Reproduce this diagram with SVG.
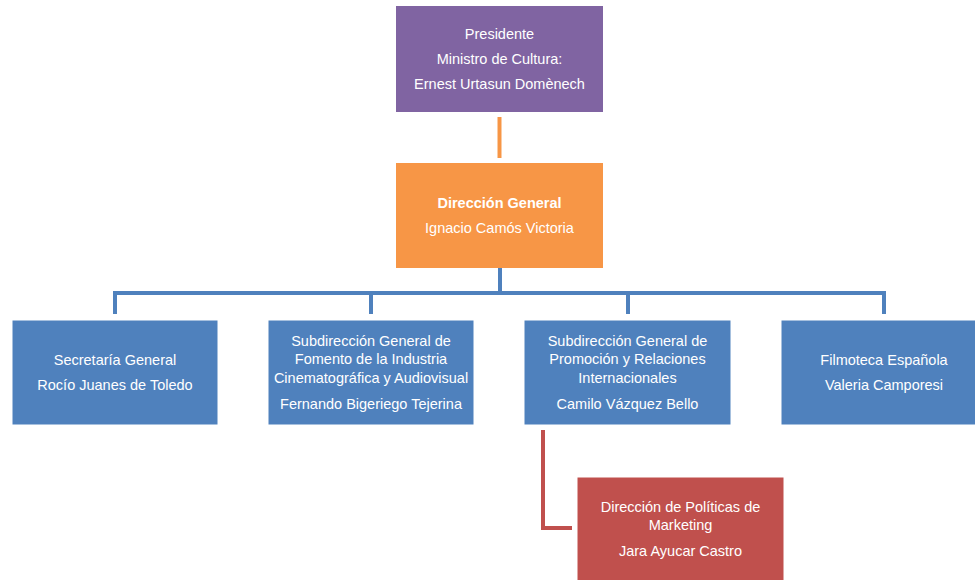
<svg xmlns="http://www.w3.org/2000/svg" width="975" height="580" viewBox="0 0 975 580">
<style>
text{font-family:"Liberation Sans",Arial,sans-serif;font-size:14.5px;fill:#ffffff;text-anchor:middle}
.b{font-weight:bold}
.blue{fill:#4f81bd;stroke:#ffffff;stroke-width:1}
.conn{fill:none;stroke-width:4}
</style>
<rect width="975" height="580" fill="#ffffff"/>
<g id="connectors">
<line class="conn" x1="499.5" y1="117" x2="499.5" y2="158" stroke="#f79646"/>
<path class="conn" d="M500 268 V293 M115 314 V293 H884 V314 M371 293 V314 M628 293 V314" stroke="#4f81bd"/>
<path class="conn" d="M543 430 V528 H572" stroke="#c0504d"/>
</g>
<g id="presidente">
<rect x="396" y="6" width="207" height="106" fill="#8064a2"/>
<text x="499.5" y="39">Presidente</text>
<text x="499.5" y="64">Ministro de Cultura:</text>
<text x="499.5" y="89">Ernest Urtasun Domènech</text>
</g>
<g id="direccion-general">
<rect x="396" y="163" width="207" height="105" fill="#f79646"/>
<text class="b" x="499.5" y="208">Dirección General</text>
<text x="499.5" y="233">Ignacio Camós Victoria</text>
</g>
<g id="secretaria">
<rect class="blue" x="12" y="320" width="206" height="105"/>
<text x="115" y="365">Secretaría General</text>
<text x="115" y="390">Rocío Juanes de Toledo</text>
</g>
<g id="fomento">
<rect class="blue" x="268" y="320" width="206" height="105"/>
<text x="371" y="346">Subdirección General de</text>
<text x="371" y="364">Fomento de la Industria</text>
<text x="371" y="383">Cinematográfica y Audiovisual</text>
<text x="371" y="409">Fernando Bigeriego Tejerina</text>
</g>
<g id="promocion">
<rect class="blue" x="524" y="320" width="207" height="105"/>
<text x="627.5" y="346">Subdirección General de</text>
<text x="627.5" y="364">Promoción y Relaciones</text>
<text x="627.5" y="383">Internacionales</text>
<text x="627.5" y="409">Camilo Vázquez Bello</text>
</g>
<g id="filmoteca">
<rect class="blue" x="781" y="320" width="206" height="105"/>
<text x="884" y="365">Filmoteca Española</text>
<text x="884" y="390">Valeria Camporesi</text>
</g>
<g id="marketing">
<rect x="577" y="477" width="207" height="106" fill="#c0504d" stroke="#ffffff" stroke-width="1"/>
<text x="680.5" y="512">Dirección de Políticas de</text>
<text x="680.5" y="530">Marketing</text>
<text x="680.5" y="556">Jara Ayucar Castro</text>
</g>
</svg>
